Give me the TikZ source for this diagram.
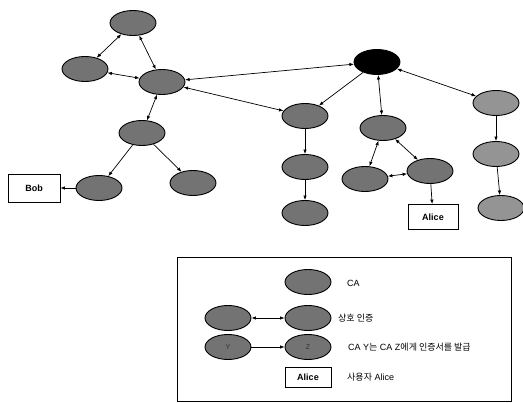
\documentclass[tikz,border=0pt]{standalone}
\usepackage{fontspec}
\setmainfont{Liberation Sans}
\newfontfamily\kr{Noto Sans CJK KR}
\usetikzlibrary{shapes.geometric,arrows.meta}
\begin{document}
\begin{tikzpicture}[x=1pt,y=-1pt,
  ca/.style={ellipse,draw=black,line width=0.9pt,fill=black!55,minimum width=46pt,minimum height=25pt,inner sep=0pt},
  calight/.style={ca,fill=black!42},
  root/.style={ca,fill=black},
  user/.style={rectangle,draw=black,line width=0.8pt,fill=white,inner sep=0pt,font=\fontsize{9}{10}\selectfont\bfseries},
  lbl/.style={anchor=west,inner sep=0pt,font=\fontsize{9}{10}\selectfont},
  one/.style={-{Latex[length=4.5pt,width=3.5pt]},line width=0.7pt},
  two/.style={{Latex[length=4.5pt,width=3.5pt]}-{Latex[length=4.5pt,width=3.5pt]},line width=0.7pt}]
\useasboundingbox (0,0) rectangle (523,403);
% tree
\node[ca] (A) at (133,23) {};
\node[ca] (B) at (85,69) {};
\node[ca] (C) at (162,82) {};
\node[ca] (D) at (142,133) {};
\node[ca] (E) at (99,188) {};
\node[ca] (F) at (193,183) {};
\node[user,minimum width=52pt,minimum height=28pt] (bob) at (34,188) {Bob};
\node[root] (R) at (377,62) {};
\node[ca] (G) at (305,116) {};
\node[ca] (H) at (305,167) {};
\node[ca] (I) at (305,213) {};
\node[ca] (J) at (383,128) {};
\node[ca] (K) at (365,179) {};
\node[ca] (L) at (430,171) {};
\node[user,minimum width=50pt,minimum height=25pt] (alice) at (433,217) {Alice};
\node[calight] (M) at (496,103) {};
\node[calight] (N) at (496,154) {};
\node[calight] (O) at (501,208) {};
\draw[two] (A) -- (B);
\draw[two] (A) -- (C);
\draw[two] (B) -- (C);
\draw[two] (C) -- (D);
\draw[one] (D) -- (E);
\draw[one] (D) -- (F);
\draw[one] (E) -- (bob);
\draw[two] (C) -- (R);
\draw[two] (C) -- (G);
\draw[one] (R) -- (G);
\draw[one] (G) -- (H);
\draw[one] (H) -- (I);
\draw[two] (R) -- (J);
\draw[two] (J) -- (K);
\draw[two] (J) -- (L);
\draw[two] (K) -- (L);
\draw[one] (L) -- (alice);
\draw[two] (R) -- (M);
\draw[one] (M) -- (N);
\draw[one] (N) -- (O);
% legend
\node[draw=black,line width=0.7pt,minimum width=334pt,minimum height=144pt,inner sep=0pt] (box) at (344,329) {};
\node[ca] (l1) at (308,282) {};
\node[lbl] (t1) at (347,283) {CA};
\node[ca] (l2a) at (228,318) {};
\node[ca] (l2b) at (308,318) {};
\draw[two] (l2a) -- (l2b);
\node[lbl] (t2) at (338,318) {\kr 상호 인증};
\node[ca,font=\fontsize{7}{8}\selectfont,text=black!80] (l3a) at (228,347) {Y};
\node[ca,font=\fontsize{7}{8}\selectfont,text=black!80] (l3b) at (308,347) {Z};
\draw[one] (l3a) -- (l3b);
\node[lbl] (t3) at (348,347) {CA Y{\kr 는} CA Z{\kr 에게 인증서를 발급}};
\node[user,minimum width=46pt,minimum height=20pt] (l4) at (308,377) {Alice};
\node[lbl] (t4) at (347,377) {{\kr 사용자} Alice};
\end{tikzpicture}
\end{document}
